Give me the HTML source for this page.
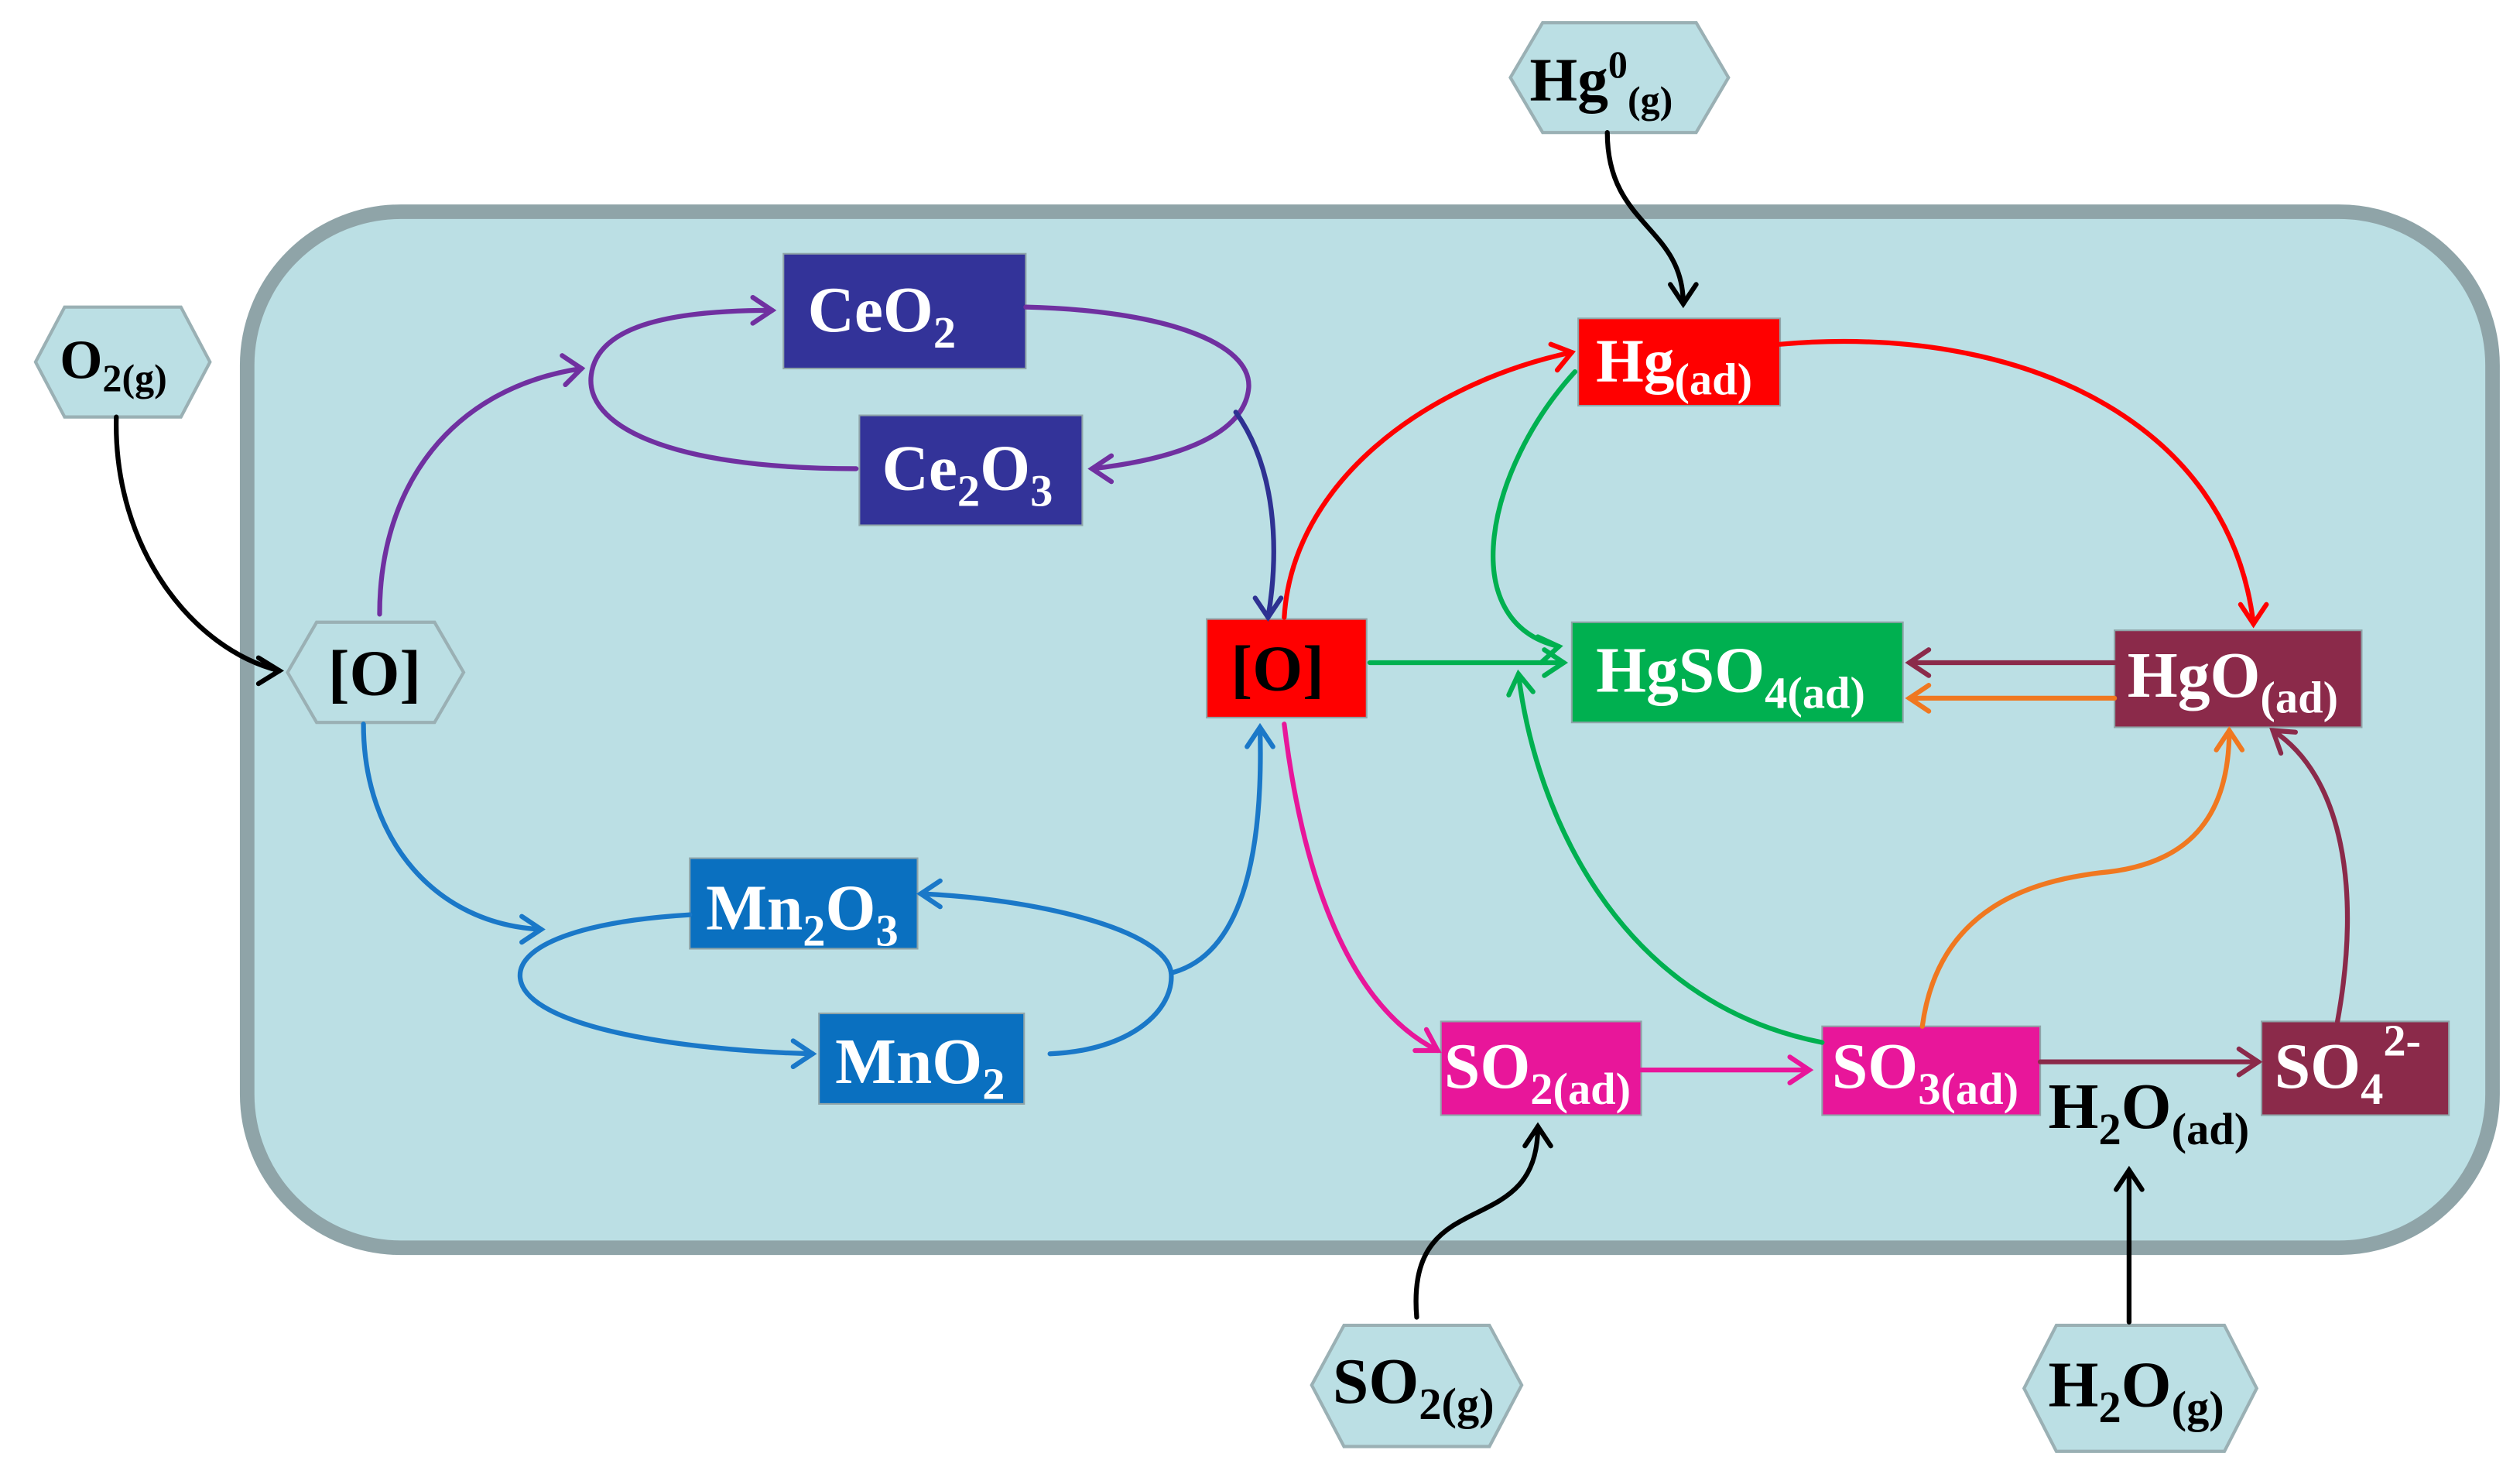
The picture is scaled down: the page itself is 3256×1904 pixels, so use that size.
<!DOCTYPE html>
<html><head><meta charset="utf-8"><style>
html,body{margin:0;padding:0;background:#fff;}
svg{display:block;}
text{font-family:"Liberation Serif",serif;font-weight:bold;}
</style></head><body>
<svg width="3256" height="1904" viewBox="0 0 1560 912" preserveAspectRatio="none" xmlns="http://www.w3.org/2000/svg">
<defs>
<marker id="mk" viewBox="0 0 10 10" refX="9" refY="5" markerWidth="7" markerHeight="7" orient="auto" markerUnits="userSpaceOnUse">
</marker>
</defs>
<style>
.a{fill:none;stroke-width:3;}
</style>
<rect x="153" y="131" width="1390" height="641" rx="95" fill="#bbdfe4" stroke="#8fa4a8" stroke-width="9"/>

<!-- hexagons -->
<g fill="#bbdfe4" stroke="#9ab0b4" stroke-width="2">
<polygon points="22,224 40,190 112,190 130,224 112,258 40,258"/>
<polygon points="935,48 955,14 1050,14 1070,48 1050,82 955,82"/>
<polygon points="178,416 196,385 269,385 287,416 269,447 196,447"/>
<polygon points="812,857 832,820 922,820 942,857 922,895 832,895"/>
<polygon points="1253,859 1273,820 1377,820 1397,859 1377,898 1273,898"/>
</g>

<!-- boxes -->
<rect x="485" y="157" width="150" height="71" fill="#333399" stroke="#8fa4a8"/>
<rect x="532" y="257" width="138" height="68" fill="#333399" stroke="#8fa4a8"/>
<rect x="427" y="531" width="141" height="56" fill="#0a70c0" stroke="#8fa4a8"/>
<rect x="507" y="627" width="127" height="56" fill="#0a70c0" stroke="#8fa4a8"/>
<rect x="747" y="383" width="99" height="61" fill="#ff0000" stroke="#8fa4a8"/>
<rect x="977" y="197" width="125" height="54" fill="#ff0000" stroke="#8fa4a8"/>
<rect x="973" y="385" width="205" height="62" fill="#00b050" stroke="#8fa4a8"/>
<rect x="1309" y="390" width="153" height="60" fill="#8b2a4a" stroke="#8fa4a8"/>
<rect x="892" y="632" width="124" height="58" fill="#e8169a" stroke="#8fa4a8"/>
<rect x="1128" y="635" width="135" height="55" fill="#e8169a" stroke="#8fa4a8"/>
<rect x="1400" y="632" width="116" height="58" fill="#8b2a4a" stroke="#8fa4a8"/>

<!-- arrows -->
<g class="a" stroke-linecap="round">
<g stroke="#7030a0">
<path d="M235,380 C235,300 280,240 360,228"/><path d="M348,220 L360,228 L350,238"/>
<path d="M530,290 C410,290 362,262 366,232 C370,200 420,192 478,192"/><path d="M466,184 L478,192 L466,200"/>
<path d="M635,190 C720,192 775,212 773,240 C770,272 720,285 676,290"/><path d="M688,282 L676,290 L688,298"/>
</g>
<g stroke="#2e3192">
<path d="M765,255 C790,290 792,340 785,382"/><path d="M777,370 L785,382 L793,370"/>
</g>
<g stroke="#1a78c8">
<path d="M225,448 C225,520 270,572 335,575"/><path d="M323,567 L335,575 L323,583"/>
<path d="M427,566 C360,570 320,585 322,605 C325,635 420,650 503,652"/><path d="M491,644 L503,652 L491,660"/>
<path d="M650,652 C700,650 727,625 725,602 C722,575 640,556 570,553"/><path d="M582,545 L570,553 L582,561"/>
<path d="M725,602 C772,590 782,520 780,450"/><path d="M772,462 L780,450 L788,462"/>
</g>
<g stroke="#ff0000">
<path d="M795,382 C800,300 880,238 973,218"/><path d="M960,213 L973,218 L964,229"/>
<path d="M1102,213 C1250,200 1380,260 1395,386"/><path d="M1387,374 L1395,386 L1403,374"/>
</g>
<g stroke="#00b050">
<path d="M848,410 L968,410"/><path d="M956,402 L968,410 L956,418"/>
<path d="M975,230 C920,290 900,385 965,400"/><path d="M952,394 L965,400 L954,410"/>
<path d="M1128,645 C1000,620 950,500 940,417"/><path d="M934,430 L940,417 L949,428"/>
</g>
<g stroke="#8b2a4a">
<path d="M1309,410 L1182,410"/><path d="M1194,402 L1182,410 L1194,418"/>
<path d="M1263,657 L1398,657"/><path d="M1386,649 L1398,657 L1386,665"/>
<path d="M1447,632 C1462,550 1450,480 1407,452"/><path d="M1412,466 L1407,452 L1421,453"/>
</g>
<g stroke="#f07820">
<path d="M1309,432 L1182,432"/><path d="M1194,424 L1182,432 L1194,440"/>
<path d="M1190,635 C1200,560 1260,545 1300,540 C1360,535 1380,500 1380,452"/><path d="M1372,464 L1380,452 L1388,464"/>
</g>
<g stroke="#e8169a">
<path d="M795,448 C805,530 830,620 890,650"/><path d="M876,650 L890,650 L883,637"/>
<path d="M1016,662 L1120,662"/><path d="M1108,654 L1120,662 L1108,670"/>
</g>
<g stroke="#000">
<path d="M72,258 C70,340 120,402 173,415"/><path d="M160,407 L173,415 L160,423"/>
<path d="M995,82 C995,140 1042,140 1042,188"/><path d="M1034,176 L1042,188 L1050,176"/>
<path d="M877,815 C870,730 952,770 952,697"/><path d="M944,709 L952,697 L960,709"/>
<path d="M1318,818 L1318,724"/><path d="M1310,736 L1318,724 L1326,736"/>
</g>
</g>

<!-- labels -->
<g font-size="40">
<text x="37" y="234" fill="#000" font-size="34">O<tspan font-size="24" dy="8">2(g)</tspan></text>
<text x="947" y="62" fill="#000" font-size="38">Hg<tspan font-size="24" dy="-14">0</tspan><tspan font-size="24" dy="22">(g)</tspan></text>
<text x="203" y="430" fill="#000" font-size="40">[O]</text>
<text x="825" y="868" fill="#000" font-size="40">SO<tspan font-size="28" dy="10">2(g)</tspan></text>
<text x="1268" y="870" fill="#000" font-size="40">H<tspan font-size="28" dy="10">2</tspan><tspan dy="-10">O</tspan><tspan font-size="28" dy="10">(g)</tspan></text>
<text x="1268" y="698" fill="#000" font-size="40">H<tspan font-size="28" dy="10">2</tspan><tspan dy="-10">O</tspan><tspan font-size="28" dy="10">(ad)</tspan></text>

<text x="500" y="205" fill="#fff">CeO<tspan font-size="28" dy="10">2</tspan></text>
<text x="546" y="303" fill="#fff">Ce<tspan font-size="28" dy="10">2</tspan><tspan dy="-10">O</tspan><tspan font-size="28" dy="10">3</tspan></text>
<text x="437" y="575" fill="#fff">Mn<tspan font-size="28" dy="10">2</tspan><tspan dy="-10">O</tspan><tspan font-size="28" dy="10">3</tspan></text>
<text x="517" y="670" fill="#fff">MnO<tspan font-size="28" dy="10">2</tspan></text>
<text x="762" y="427" fill="#000">[O]</text>
<text x="988" y="236" fill="#fff" font-size="38">Hg<tspan font-size="28" dy="8">(ad)</tspan></text>
<text x="988" y="428" fill="#fff" font-size="40">HgSO<tspan font-size="28" dy="10">4(ad)</tspan></text>
<text x="1317" y="431" fill="#fff" font-size="40">HgO<tspan font-size="28" dy="10">(ad)</tspan></text>
<text x="894" y="673" fill="#fff" font-size="40">SO<tspan font-size="28" dy="10">2(ad)</tspan></text>
<text x="1134" y="673" fill="#fff" font-size="40">SO<tspan font-size="28" dy="10">3(ad)</tspan></text>
<text x="1408" y="673" fill="#fff" font-size="40">SO<tspan font-size="28" dy="10">4</tspan><tspan font-size="28" dy="-30">2-</tspan></text>
</g>
</svg>
</body></html>
